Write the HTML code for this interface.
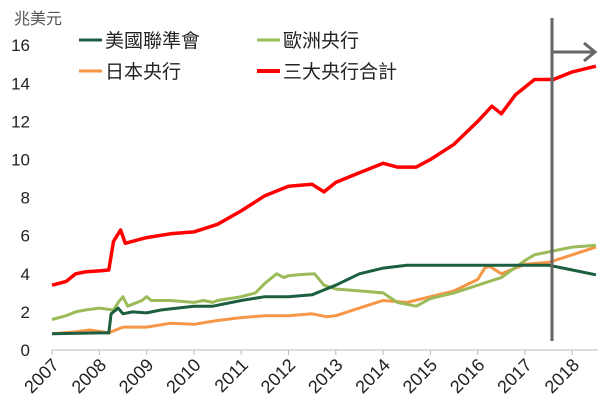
<!DOCTYPE html>
<html><head><meta charset="utf-8"><style>
body{margin:0;background:#fff}
svg{display:block;font-family:"Liberation Sans","Noto Sans CJK TC",sans-serif}
</style></head><body>
<svg id="c" width="600" height="414"></svg>
<script>
const years=[2007,2008,2009,2010,2011,2012,2013,2014,2015,2016,2017,2018];
const yTicks=[0,2,4,6,8,10,12,14,16];
const fedT=[2007,2008,2008.2,2008.25,2008.4,2008.5,2008.7,2009,2009.3,2010,2010.4,2011,2011.5,2012,2012.5,2012.7,2013,2013.5,2014,2014.5,2015,2016,2017,2017.5,2018,2018.5];
const fedV=[0.85,0.9,0.9,1.9,2.2,1.9,2.0,1.95,2.1,2.3,2.3,2.6,2.8,2.8,2.9,3.1,3.4,4.0,4.3,4.45,4.45,4.45,4.45,4.45,4.2,3.95];
const ecbT=[2007,2007.3,2007.5,2007.7,2008,2008.3,2008.4,2008.5,2008.6,2008.9,2009,2009.1,2009.5,2010,2010.2,2010.4,2010.5,2011,2011.3,2011.5,2011.75,2011.9,2012,2012.2,2012.55,2012.75,2013,2013.5,2014,2014.3,2014.7,2015,2015.5,2016,2016.5,2017,2017.2,2017.6,2018,2018.5];
const ecbV=[1.6,1.8,2.0,2.1,2.2,2.1,2.5,2.8,2.3,2.6,2.8,2.6,2.6,2.5,2.6,2.5,2.6,2.8,3.0,3.5,4.0,3.8,3.9,3.95,4.0,3.4,3.2,3.1,3.0,2.5,2.3,2.7,3.0,3.4,3.8,4.7,5.0,5.2,5.4,5.5];
const bojT=[2007,2007.5,2007.8,2008.2,2008.5,2009,2009.5,2010,2010.5,2011,2011.5,2012,2012.5,2012.8,2013,2013.5,2014,2014.5,2015,2015.5,2016,2016.15,2016.25,2016.5,2017,2017.5,2018,2018.5];
const bojV=[0.85,0.95,1.05,0.9,1.2,1.2,1.4,1.35,1.55,1.7,1.8,1.8,1.9,1.75,1.8,2.2,2.6,2.5,2.8,3.1,3.7,4.3,4.4,4.0,4.5,4.6,5.0,5.4];
const totT=[2007,2007.3,2007.5,2007.7,2008,2008.2,2008.3,2008.45,2008.55,2009,2009.5,2010,2010.5,2011,2011.5,2012,2012.5,2012.75,2013,2013.5,2014,2014.3,2014.7,2015,2015.5,2016,2016.3,2016.5,2016.8,2017.2,2017.6,2018,2018.5];
const totV=[3.4,3.6,4.0,4.1,4.15,4.2,5.7,6.3,5.6,5.9,6.1,6.2,6.6,7.3,8.1,8.6,8.7,8.3,8.8,9.3,9.8,9.6,9.6,10.0,10.8,12.0,12.8,12.4,13.4,14.2,14.2,14.6,14.9];
const svg=document.getElementById('c');const NS='http://www.w3.org/2000/svg';
const X=t=>52+(t-2007)*47.3;const Y=v=>350-v*19.05;
function mk(tag,a,parent){const e=document.createElementNS(NS,tag);for(const k in a)e.setAttribute(k,a[k]);(parent||svg).appendChild(e);return e;}
let t=mk('text',{x:14,y:24,'font-size':16,fill:'#555'});t.textContent='兆美元';


yTicks.forEach(v=>{const e=mk('text',{x:30,y:Y(v)+6,'font-size':17,'text-anchor':'end',fill:'#222'});e.textContent=v;

});
let ax=mk('line',{x1:52,y1:350,x2:598,y2:350,stroke:'#bbb','stroke-width':1});


years.forEach(y=>{const tk=mk('line',{x1:X(y),y1:350,x2:X(y),y2:355,stroke:'#bbb'});


const lx=X(y)+8,ly=366;
const e=mk('text',{x:lx,y:ly,'font-size':18,'text-anchor':'end',fill:'#222',transform:`rotate(-45 ${lx} ${ly})`});e.textContent=y;

});
function series(T,V,col,w,name){const d=T.map((tt,i)=>(i?'L':'M')+X(tt).toFixed(1)+','+Y(V[i]).toFixed(1)).join('');
const p=mk('path',{d:d,fill:'none',stroke:col,'stroke-width':w,'stroke-linejoin':'round'});

}
series(bojT,bojV,'#f79646',3,'boj-line');
series(ecbT,ecbV,'#9bbb59',3,'ecb-line');
series(fedT,fedV,'#1b5e40',3,'fed-line');
series(totT,totV,'#ff0000',3.5,'total-line');
let vl=mk('line',{x1:552,y1:18,x2:552,y2:341,stroke:'#666','stroke-width':3});


let ar=mk('path',{d:'M552,52L594,52M584,43L595,52L584,61',fill:'none',stroke:'#666','stroke-width':3});


const leg=[['美國聯準會','#1b5e40',79,40],['歐洲央行','#9bbb59',257,40],['日本央行','#f79646',79,71],['三大央行合計','#ff0000',257,71]];
leg.forEach(l=>{const g=mk('g',{});


mk('line',{x1:l[2],y1:l[3],x2:l[2]+23,y2:l[3],stroke:l[1],'stroke-width':l[1]=='#ff0000'?4:3},g);
const e=mk('text',{x:l[2]+26,y:l[3]+7,'font-size':19,fill:'#222'},g);e.textContent=l[0];});
</script>
</body></html>
